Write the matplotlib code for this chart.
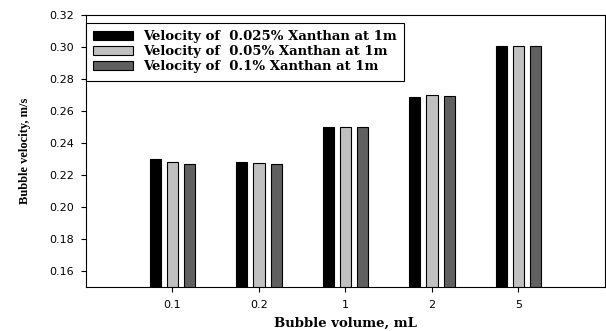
import numpy as np
import matplotlib
matplotlib.use('Agg')
import matplotlib.pyplot as plt

# data
volumes = ['0.1', '0.2', '1', '2', '5']
v_0025 = [0.2300, 0.2281, 0.2502, 0.2688, 0.3008]
v_005 = [0.2279, 0.2275, 0.2500, 0.2698, 0.3008]
v_01 = [0.2269, 0.2267, 0.2498, 0.2696, 0.3008]
labels = ['Velocity of  0.025% Xanthan at 1m',
          'Velocity of  0.05% Xanthan at 1m',
          'Velocity of  0.1% Xanthan at 1m']
colors = ['#000000', '#c0c0c0', '#606060']

fig = plt.figure(figsize=(6.06, 3.31), dpi=100)
ax = fig.add_axes([0.1419, 0.1329, 0.8564, 0.8218])

x = np.arange(len(volumes))
w = 0.13
for i, (vals, lab, c) in enumerate(zip([v_0025, v_005, v_01], labels, colors)):
    ax.bar(x + (i - 1) * 0.2, vals, w, color=c, edgecolor='black', linewidth=0.8, label=lab)

ax.set_xlim(-1, 5)
ax.set_ylim(0.15, 0.32)
ax.set_yticks(np.arange(0.16, 0.321, 0.02))
ax.set_yticklabels(['%.2f' % t for t in np.arange(0.16, 0.321, 0.02)])
ax.set_xticks(x)
ax.set_xticklabels(volumes)
ax.tick_params(direction='out', length=3.5, width=0.8, labelsize=8)
ax.tick_params(axis='y', pad=5)
ax.tick_params(axis='x', pad=6)
for t in ax.get_xticklabels() + ax.get_yticklabels():
    t.set_fontfamily('DejaVu Sans')
for s in ax.spines.values():
    s.set_linewidth(0.8)

ax.set_xlabel('Bubble volume, mL', fontfamily='DejaVu Serif', fontweight='bold', fontsize=9.5, labelpad=5)
ax.set_ylabel('Bubble velocity, m/s', fontfamily='Liberation Serif', fontweight='bold', fontsize=9, labelpad=13)

leg = ax.legend(loc='upper left', bbox_to_anchor=(0, 0.97), borderaxespad=0,
                prop={'family': 'DejaVu Serif', 'weight': 'bold', 'size': 9.5},
                fancybox=False, framealpha=1, handlelength=3.0, handleheight=0.7,
                labelspacing=0.15, borderpad=0.55, handletextpad=0.75)
leg.get_frame().set_edgecolor('black')
leg.get_frame().set_linewidth(0.8)

fig.savefig('out.png', dpi=100)
